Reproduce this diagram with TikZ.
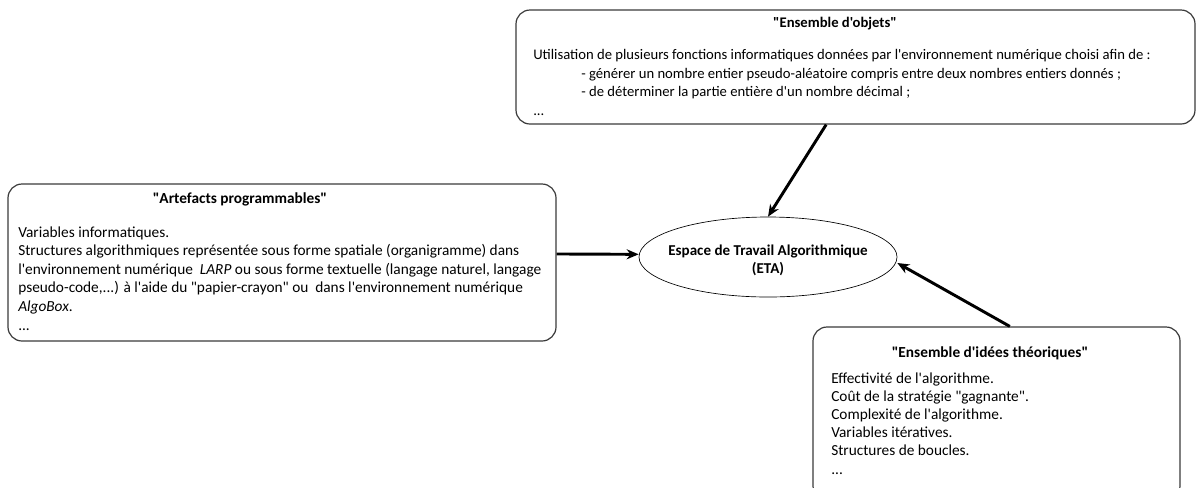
\documentclass[tikz,border=0pt]{standalone}
\usepackage{fontspec}
\setmainfont{Carlito}[Ligatures=TeXOff]
\usepackage{xcolor}
\definecolor{frame}{HTML}{3A3A3A}
\usetikzlibrary{arrows.meta, shapes.geometric, fit}
\newcommand{\etcdots}{...}

\begin{document}
\begin{tikzpicture}[x=0.75pt, y=-0.75pt,
  box/.style={draw=frame, line width=0.9pt, rounded corners=10.5pt, inner sep=0pt},
  heading/.style={font=\fontsize{#1}{14}\selectfont\bfseries, anchor=base, inner sep=0pt},
  heading/.default=11,
  body/.style={font=\fontsize{#1}{14}\selectfont, anchor=base west, inner sep=0pt},
  body/.default=11,
  link/.style={-{Stealth[length=9pt, width=7.5pt]}, line width=2.2pt}]

  \useasboundingbox (0,0) rectangle (1196,487);

  % the three frames and the ETA
  \node[box, fit={(516,10) (1195,124)}] (objets) {};
  \node[box, fit={(8,184) (556,341)}] (artefacts) {};
  \node[box, fit={(813,327) (1180,500)}] (idees) {};

  \node[draw, ellipse, line width=0.5pt, inner sep=0pt,
        minimum width=193.5pt, minimum height=60pt] (eta) at (768,257) {};
  \node[align=center, inner sep=0pt, font=\fontsize{11.3}{13.5}\selectfont\bfseries]
        (eta-text) at ([yshift=-2.5pt]eta.center) {Espace de Travail Algorithmique\\(ETA)};

  % "Ensemble d'objets"
  \node[heading] (objets-title) at (835,27) {"Ensemble d'objets"};
  \node[body] (objets-0) at (533,59)
    {Utilisation de plusieurs fonctions informatiques données par l'environnement numérique choisi afin de :};
  \node[body] (objets-1) at (581,78)
    {- générer un nombre entier pseudo-aléatoire compris entre deux nombres entiers donnés ;};
  \node[body] (objets-2) at (581,96)
    {- de déterminer la partie entière d'un nombre décimal ;};
  \node[body] (objets-3) at (533,115) {\etcdots};

  % "Artefacts programmables"
  \node[heading=11.5] (artefacts-title) at (240,203) {"Artefacts programmables"};
  \foreach \txt [count=\i from 0] in {Variables informatiques.,
      {Structures algorithmiques représentée sous forme spatiale (organigramme) dans},
      {l'environnement numérique\ \ \textit{LARP} ou sous forme textuelle (langage naturel, langage},
      {pseudo-code,\etcdots) à l'aide du "papier-crayon" ou\ \ dans l'environnement numérique},
      {\textit{AlgoBox}.},
      \etcdots}
    \node[body=11.5] (artefacts-\i) at (18,237+18.6*\i) {\txt};

  % "Ensemble d'idées théoriques"
  \node[heading=11.5] (idees-title) at (990,357) {"Ensemble d'idées théoriques"};
  \foreach \txt [count=\i from 0] in {Effectivité de l'algorithme.,
      Coût de la stratégie "gagnante".,
      Complexité de l'algorithme.,
      Variables itératives.,
      Structures de boucles.,
      \etcdots}
    \node[body=11.5] (idees-\i) at (831,383+18.2*\i) {\txt};

  % links towards the ETA
  \draw[link] ([xshift=-22pt]objets.south) -- (eta.north);
  \draw[link] ([yshift=6.4pt]artefacts.east) -- ([yshift=2pt]eta.west);
  \draw[link] ([xshift=10pt]idees.north) -- ([yshift=-4.5pt]eta.east);

\end{tikzpicture}
\end{document}
